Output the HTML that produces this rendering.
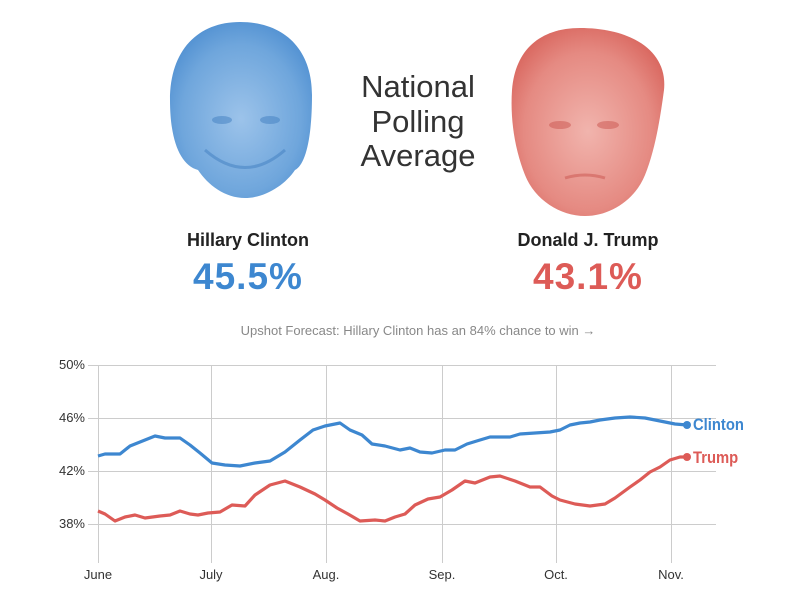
<!DOCTYPE html>
<html><head><meta charset="utf-8"><style>
body{margin:0;width:800px;height:600px;background:#fff;font-family:"Liberation Sans",sans-serif;position:relative;overflow:hidden}
.t{position:absolute;white-space:nowrap}
.n{font-family:"Liberation Sans Narrow","Liberation Sans",sans-serif}
.c{transform:scaleX(0.87);transform-origin:0 0}
</style></head><body>
<svg width="800" height="600" style="position:absolute;left:0;top:0">
<defs>
<radialGradient id="gb" cx="50%" cy="55%" r="60%"><stop offset="0" stop-color="#9cc3ea"/><stop offset="0.7" stop-color="#6fa6dc"/><stop offset="1" stop-color="#4f8fd1"/></radialGradient>
<radialGradient id="gr" cx="50%" cy="55%" r="60%"><stop offset="0" stop-color="#f1b4ad"/><stop offset="0.7" stop-color="#e58a82"/><stop offset="1" stop-color="#d9675f"/></radialGradient>
</defs>
<path d="M240,22 C285,22 312,50 312,95 C312,140 305,165 295,170 C285,185 265,198 245,198 C225,198 208,185 198,170 C180,165 170,140 170,100 C170,50 198,22 240,22Z" fill="url(#gb)"/>
<path d="M205,150 Q245,185 285,150" fill="none" stroke="#3f7ec0" stroke-width="3" opacity=".5"/>
<ellipse cx="222" cy="120" rx="10" ry="4" fill="#3f7ec0" opacity=".5"/><ellipse cx="270" cy="120" rx="10" ry="4" fill="#3f7ec0" opacity=".5"/>
<path d="M580,28 C630,28 668,50 664,90 C660,120 655,150 645,175 C635,200 610,216 585,216 C560,216 535,200 525,175 C515,150 510,120 512,90 C515,50 540,28 580,28Z" fill="url(#gr)"/>
<ellipse cx="560" cy="125" rx="11" ry="4" fill="#c9544d" opacity=".5"/><ellipse cx="608" cy="125" rx="11" ry="4" fill="#c9544d" opacity=".5"/>
<path d="M565,178 Q585,172 605,178" fill="none" stroke="#c9544d" stroke-width="3" opacity=".5"/>
<g stroke="#ccc" stroke-width="1">
<line x1="88" y1="365.5" x2="716" y2="365.5"/><line x1="88" y1="418.5" x2="716" y2="418.5"/><line x1="88" y1="471.5" x2="716" y2="471.5"/><line x1="88" y1="524.5" x2="716" y2="524.5"/>
<line x1="98.5" y1="365" x2="98.5" y2="563"/><line x1="211.5" y1="365" x2="211.5" y2="563"/><line x1="326.5" y1="365" x2="326.5" y2="563"/><line x1="442.5" y1="365" x2="442.5" y2="563"/><line x1="556.5" y1="365" x2="556.5" y2="563"/><line x1="671.5" y1="365" x2="671.5" y2="563"/>
</g>
<polyline fill="none" stroke="#3d87d0" stroke-width="3.2" stroke-linejoin="round" points="98,456 105,454 120,454 130,446 145,440 155,436 165,438 180,438 190,445 200,453 212,463 225,465 240,466 255,463 270,461 285,452 300,440 313,430 325,426 340,423 350,430 362,435 372,444 385,446 400,450 410,448 420,452 432,453 445,450 455,450 467,444 480,440 490,437 500,437 510,437 520,434 535,433 550,432 560,430 570,425 580,423 590,422 600,420 615,418 630,417 645,418 660,421 675,424 687,425"/>
<polyline fill="none" stroke="#dd5b57" stroke-width="3.2" stroke-linejoin="round" points="98,511 105,514 115,521 125,517 135,515 145,518 160,516 170,515 180,511 190,514 198,515 208,513 220,512 232,505 245,506 255,495 270,485 285,481 300,487 315,494 325,500 337,508 348,514 360,521 375,520 385,521 395,517 405,514 415,505 428,499 440,497 452,490 465,481 475,483 490,477 500,476 515,481 530,487 540,487 552,496 560,500 575,504 590,506 605,504 615,498 630,487 640,480 650,472 660,467 670,460 680,457 687,457"/>
<circle cx="687" cy="425" r="4" fill="#3d87d0"/><circle cx="687" cy="457" r="4" fill="#dd5b57"/>
</svg>
<div class="t n" style="left:318px;top:70px;width:200px;text-align:center;font-size:31px;line-height:34.5px;color:#333">National<br>Polling<br>Average</div>
<div class="t n" style="left:148px;top:230px;width:200px;text-align:center;font-size:18px;font-weight:bold;color:#222">Hillary Clinton</div>
<div class="t" style="left:148px;top:256px;width:200px;text-align:center;font-size:37px;font-weight:bold;color:#3d87d0;letter-spacing:1px">45.5%</div>
<div class="t n" style="left:488px;top:230px;width:200px;text-align:center;font-size:18px;font-weight:bold;color:#222">Donald J. Trump</div>
<div class="t" style="left:488px;top:256px;width:200px;text-align:center;font-size:37px;font-weight:bold;color:#dd5b57;letter-spacing:1px">43.1%</div>
<div class="t" style="left:218px;top:323px;width:400px;text-align:center;font-size:13px;color:#888">Upshot Forecast: Hillary Clinton has an 84% chance to win →</div>
<div class="t n" style="left:40px;top:357px;width:45px;text-align:right;font-size:13px;color:#333">50%</div>
<div class="t n" style="left:40px;top:410px;width:45px;text-align:right;font-size:13px;color:#333">46%</div>
<div class="t n" style="left:40px;top:463px;width:45px;text-align:right;font-size:13px;color:#333">42%</div>
<div class="t n" style="left:40px;top:516px;width:45px;text-align:right;font-size:13px;color:#333">38%</div>
<div class="t c" style="left:693px;top:415px;font-size:17px;font-weight:bold;color:#3d87d0">Clinton</div>
<div class="t c" style="left:693px;top:448px;font-size:17px;font-weight:bold;color:#dd5b57">Trump</div>
<div class="t n" style="left:68px;top:567px;width:60px;text-align:center;font-size:13px;color:#333">June</div>
<div class="t n" style="left:181px;top:567px;width:60px;text-align:center;font-size:13px;color:#333">July</div>
<div class="t n" style="left:296px;top:567px;width:60px;text-align:center;font-size:13px;color:#333">Aug.</div>
<div class="t n" style="left:412px;top:567px;width:60px;text-align:center;font-size:13px;color:#333">Sep.</div>
<div class="t n" style="left:526px;top:567px;width:60px;text-align:center;font-size:13px;color:#333">Oct.</div>
<div class="t n" style="left:641px;top:567px;width:60px;text-align:center;font-size:13px;color:#333">Nov.</div>
</body></html>
